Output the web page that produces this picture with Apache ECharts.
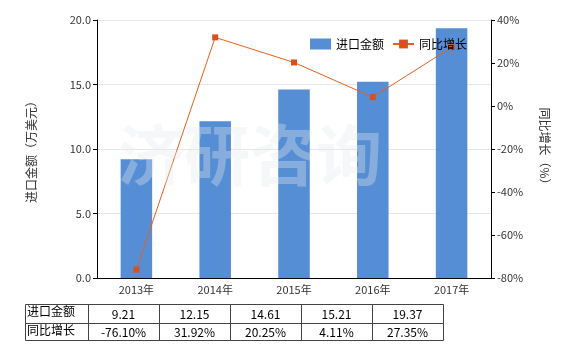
<!doctype html>
<html lang="zh">
<head>
<meta charset="UTF-8">
<style>
html,body{margin:0;padding:0;background:#fff;}
#chart{width:580px;height:350px;}
</style>
<script src="https://cdn.jsdelivr.net/npm/echarts@6/dist/echarts.min.js"></script>
<title>进口金额及同比增长</title>
</head>
<body>
<div id="chart"></div>
<script>
// data
var years = ['2013年', '2014年', '2015年', '2016年', '2017年'];
var amount = [9.21, 12.15, 14.61, 15.21, 19.37];
var growth = [-76.10, 31.92, 20.25, 4.11, 27.35];
var amountText = ['9.21', '12.15', '14.61', '15.21', '19.37'];
var growthText = ['-76.10%', '31.92%', '20.25%', '4.11%', '27.35%'];

var font = '"Noto Sans CJK SC", "DejaVu Sans", sans-serif';
var myChart = echarts.init(document.getElementById('chart'));

// table under the chart
var tbl = [];
var tx = 25, ty = 304, labelW = 63, colW = 71, rowH = [19, 17];
var rows = [['进口金额', amountText], ['同比增长', growthText]];
var y0 = ty;
for (var r = 0; r < rows.length; r++) {
  tbl.push({type: 'text', left: tx + 2, top: y0 + 1,
    style: {text: rows[r][0], fill: '#000', font: '12px ' + font}});
  for (var c = 0; c < rows[r][1].length; c++) {
    tbl.push({type: 'text', x: tx + labelW + colW * c + colW / 2, y: y0 + rowH[r] / 2 + 1,
      style: {text: rows[r][1][c], fill: '#000', font: '12px ' + font, align: 'center', verticalAlign: 'middle'}});
  }
  y0 += rowH[r];
}
var tW = labelW + colW * 5, tH = rowH[0] + rowH[1];
tbl.push({type: 'rect', shape: {x: tx + 0.5, y: ty + 0.5, width: tW, height: tH},
  style: {fill: 'none', stroke: '#444', lineWidth: 1}});
tbl.push({type: 'line', shape: {x1: tx, y1: ty + rowH[0] + 0.5, x2: tx + tW, y2: ty + rowH[0] + 0.5},
  style: {stroke: '#444', lineWidth: 1}});
for (var k = 0; k < 5; k++) {
  var xx = tx + labelW + colW * k + 0.5;
  tbl.push({type: 'line', shape: {x1: xx, y1: ty, x2: xx, y2: ty + tH}, style: {stroke: '#444', lineWidth: 1}});
}
// watermark
tbl.push({type: 'text', left: 118, top: 122, z: 100,
  style: {text: '济研咨询', fill: 'rgba(225,232,235,0.35)', font: 'bold 66px ' + font}});

var option = {
  animation: false,
  textStyle: {fontFamily: font},
  grid: {left: 97, right: 89, top: 20, bottom: 72},
  legend: {
    left: 305, top: 33, itemWidth: 21, itemHeight: 11, itemGap: 8,
    textStyle: {color: '#000', fontSize: 12},
    data: [{name: '进口金额', icon: 'rect'}, {name: '同比增长'}]
  },
  xAxis: {
    type: 'category', data: years,
    axisLine: {lineStyle: {color: '#000'}},
    axisTick: {alignWithLabel: true, length: 4, lineStyle: {color: '#000'}},
    axisLabel: {color: '#333', fontSize: 11, margin: 6}
  },
  yAxis: [{
    type: 'value', min: 0, max: 20, interval: 5,
    name: '进口金额（万美元）', nameLocation: 'middle', nameGap: 60, nameRotate: 90,
    nameTextStyle: {color: '#333', fontSize: 12},
    axisLine: {show: true, lineStyle: {color: '#000'}},
    axisTick: {show: true, length: 4, lineStyle: {color: '#000'}},
    axisLabel: {color: '#333', fontSize: 11, margin: 6, formatter: function (v) { return v.toFixed(1); }},
    splitLine: {lineStyle: {color: '#e6e6e6'}}
  }, {
    type: 'value', min: -80, max: 40, interval: 20,
    name: '同比增长（%）', nameLocation: 'middle', nameGap: 48, nameRotate: -90,
    nameTextStyle: {color: '#333', fontSize: 12},
    axisLine: {show: true, lineStyle: {color: '#000'}},
    axisTick: {show: true, length: 4, lineStyle: {color: '#000'}},
    axisLabel: {color: '#333', fontSize: 11, margin: 6, formatter: '{value}%'},
    splitLine: {show: false}
  }],
  series: [{
    name: '进口金额', type: 'bar', data: amount, barWidth: '40%',
    itemStyle: {color: '#558ed5'}
  }, {
    name: '同比增长', type: 'line', yAxisIndex: 1, data: growth,
    symbol: 'rect', symbolSize: 6,
    lineStyle: {color: '#e5601f', width: 1},
    itemStyle: {color: '#d9501c'}
  }],
  graphic: tbl
};
myChart.setOption(option);
</script>
</body>
</html>
